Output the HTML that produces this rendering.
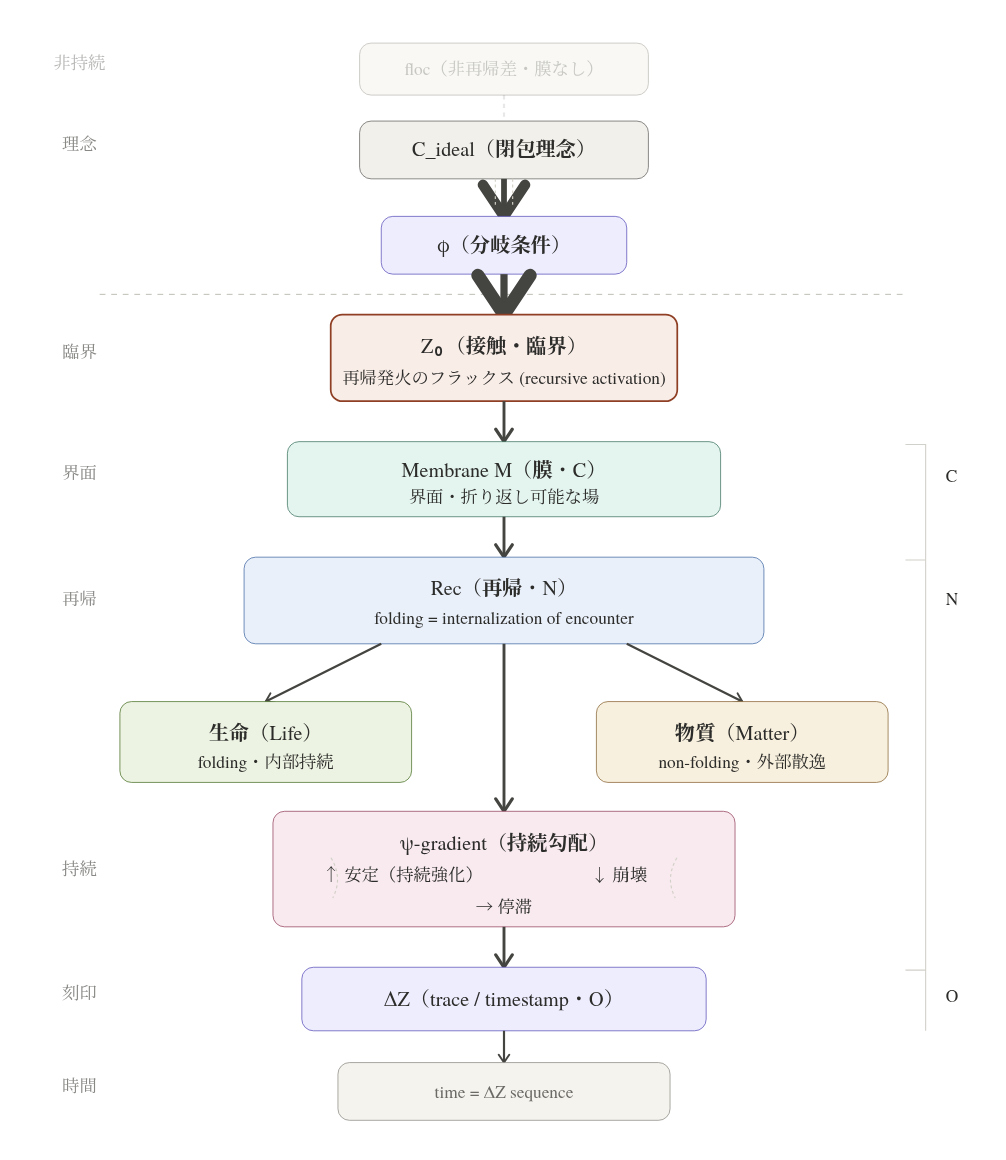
<!DOCTYPE html>
<html lang="ja"><head><meta charset="utf-8"><title>diagram</title>
<style>
html,body{margin:0;padding:0;background:#fff;}
body{width:1006px;height:1160px;overflow:hidden;font-family:"TeX Gyre Termes","Liberation Serif","Noto Serif JP","Noto Serif CJK JP",serif;}
svg{display:block;position:absolute;left:0;top:0;will-change:transform;}
text{font-family:"TeX Gyre Termes","Liberation Serif","Noto Serif JP","Noto Serif CJK JP",serif;}
.b{font-weight:700;}
.z{font-weight:700;font-family:"Noto Sans Mono","DejaVu Sans Mono","Liberation Mono",monospace;}
.j{font-family:"Noto Serif JP","Noto Serif CJK JP","Liberation Serif",serif;}
.g{font-family:"FreeSerif","Liberation Serif",serif;}
.t{font-size:14px;font-weight:400;fill:#2c2c2a;text-anchor:middle;}
.s{font-size:12px;font-weight:400;fill:#2c2c2a;text-anchor:middle;}
.l{font-size:12px;font-weight:400;fill:#888885;text-anchor:middle;}
.r{font-size:12px;font-weight:400;fill:#2c2c2a;text-anchor:start;}
.ar{fill:none;stroke:#444441;stroke-linecap:round;stroke-linejoin:round;}
.ln{fill:none;stroke:#444441;stroke-linecap:butt;}
</style></head><body>
<svg width="1006" height="1160" viewBox="0 0 1006 1160">
<g transform="translate(13.04,14.22) scale(1.444)">

<line x1="60" y1="194" x2="620" y2="194" stroke="#b4b2a9" stroke-width="0.6" stroke-dasharray="4 4"/>
<rect x="240" y="20" width="200" height="36" rx="8" fill="#f9f8f5" stroke="#c6c5bf" stroke-width="0.6" />
<line x1="340" y1="56" x2="340" y2="74" stroke="#444441" stroke-width="1.5" stroke-dasharray="3 3" opacity="0.12"/>
<rect x="240" y="74" width="200" height="40" rx="8" fill="#f2f0eb" stroke="#5f5e5a" stroke-width="0.5" />
<line class="ln" x1="340" y1="114" x2="340" y2="140" stroke-width="4"/>
<path class="ar" stroke-width="7.3" d="M325.456 118.184L340 140L354.544 118.184"/>
<line x1="334" y1="114" x2="334" y2="132.5" stroke="#d3d1c7" stroke-width="0.8" stroke-dasharray="2 2"/>
<line x1="346" y1="114" x2="346" y2="132.5" stroke="#d3d1c7" stroke-width="0.8" stroke-dasharray="2 2"/>
<rect x="255" y="140" width="170" height="40" rx="8" fill="#eeedfe" stroke="#534ab7" stroke-width="0.5" />
<line class="ln" x1="340" y1="180" x2="340" y2="208" stroke-width="5"/>
<path class="ar" stroke-width="9.1" d="M321.92 180.88L340 208L358.08 180.88"/>
<rect x="220" y="208" width="240" height="60" rx="8" fill="#f9ede8" stroke="#8f3f24" stroke-width="1.2" />
<line class="ln" x1="340" y1="268" x2="340" y2="296" stroke-width="2"/>
<path class="ar" stroke-width="2.2" d="M334.28 287.42L340 296L345.72 287.42"/>
<rect x="190" y="296" width="300" height="52" rx="8" fill="#e4f5ef" stroke="#376e59" stroke-width="0.5" />
<line class="ln" x1="340" y1="348" x2="340" y2="376" stroke-width="2"/>
<path class="ar" stroke-width="2.2" d="M334.28 367.42L340 376L345.72 367.42"/>
<rect x="160" y="376" width="360" height="60" rx="8" fill="#e9f0fa" stroke="#3a639f" stroke-width="0.5" />
<line class="ln" x1="340" y1="436" x2="340" y2="552" stroke-width="2"/>
<path class="ar" stroke-width="2.2" d="M334.28 543.42L340 552L345.72 543.42"/>
<line class="ln" x1="255" y1="436" x2="175" y2="476" stroke-width="1.5"/>
<path class="ar" stroke-width="1.36" d="M178.245 470.3213L175 476L181.49 476.8112"/>
<line class="ln" x1="425" y1="436" x2="505" y2="476" stroke-width="1.5"/>
<path class="ar" stroke-width="1.36" d="M498.51 476.8112L505 476L501.755 470.3213"/>
<rect x="74" y="476" width="202" height="56" rx="8" fill="#ecf3e2" stroke="#466c23" stroke-width="0.5" />
<rect x="404" y="476" width="202" height="56" rx="8" fill="#f8f0de" stroke="#83602f" stroke-width="0.5" />
<rect x="180" y="552" width="320" height="80" rx="8" fill="#f8eaef" stroke="#903a58" stroke-width="0.5" />
<line class="ln" x1="340" y1="632" x2="340" y2="660" stroke-width="2"/>
<path class="ar" stroke-width="2.2" d="M334.28 651.42L340 660L345.72 651.42"/>
<rect x="200" y="660" width="280" height="44" rx="8" fill="#eeedfe" stroke="#534ab7" stroke-width="0.5" />
<line class="ln" x1="340" y1="704" x2="340" y2="726" stroke-width="1.5"/>
<path class="ar" stroke-width="1.36" d="M336.372 720.558L340 726L343.628 720.558"/>
<rect x="225" y="726" width="230" height="40" rx="8" fill="#f4f3ee" stroke="#888780" stroke-width="0.5" />
<path d="M220.2 584.2Q228.6 598.2 221.4 612" fill="none" stroke="#d3d1c7" stroke-width="0.8" stroke-dasharray="2 2"/>
<path d="M459.8 584.2Q451.4 598.2 458.6 612" fill="none" stroke="#d3d1c7" stroke-width="0.8" stroke-dasharray="2 2"/>
<path d="M618 298H632V704M618 378H632M618 662H632" fill="none" stroke="#d1d0ca" stroke-width="0.75"/>
<text class="r" x="646" y="323.9474">C</text>
<text class="r" x="646" y="409.1274">N</text>
<text class="r" x="646" y="684.0582">O</text>
<text class="l" x="45.95" y="37.9363" opacity="0.6">非持続</text>
<text class="l" x="45.95" y="94.0305" opacity="1">理念</text>
<text class="l" x="45.95" y="238.0748" opacity="1">臨界</text>
<text class="l" x="45.95" y="321.8698" opacity="1">界面</text>
<text class="l" x="45.95" y="409.1274" opacity="1">再帰</text>
<text class="l" x="45.95" y="596.108" opacity="1">持続</text>
<text class="l" x="45.95" y="681.9806" opacity="1">刻印</text>
<text class="l" x="45.95" y="746.385" opacity="1">時間</text>
<text class="s" x="340" y="42.0914" style="fill:#c8c8c3">floc（非再帰差・膜なし）</text>
<text class="t" x="340" y="98.1856" >C_ideal（<tspan class="b">閉包理念</tspan>）</text>
<text class="t" x="340" y="164.6676" ><tspan class="g">ϕ</tspan>（<tspan class="b">分岐条件</tspan>）</text>
<text class="t" x="340" y="234.6122" >Z<tspan class="z" dx="-0.7">₀</tspan><tspan dx="0.7">（</tspan><tspan class="b">接触・臨界</tspan>）</text>
<text class="s" x="340" y="256.0803" >再帰発火のフラックス (recursive activation)</text>
<text class="t" x="340" y="320.4848" >Membrane M（<tspan class="b">膜</tspan>・C）</text>
<text class="s" x="340" y="338.4903" >界面・折り返し可能な場</text>
<text class="t" x="340" y="402.2022" >Rec（<tspan class="b">再帰</tspan>・N）</text>
<text class="s" x="340" y="422.2853" >folding = internalization of encounter</text>
<text class="t" x="174.9723" y="502.6177" ><tspan class="b">生命</tspan>（Life）</text>
<text class="s" x="174.9723" y="522.0083" >folding・内部持続</text>
<text class="t" x="504.9584" y="502.6177" ><tspan class="b">物質</tspan>（Matter）</text>
<text class="s" x="504.9584" y="522.0083" >non-folding・外部散逸</text>
<text class="t" x="340" y="578.795" ><tspan class="g">ψ</tspan>-gradient（<tspan class="b">持続勾配</tspan>）</text>
<text class="s" x="269.8476" y="600.2632" ><tspan class="j">↑</tspan> 安定（持続強化）</text>
<text class="s" x="419.7091" y="600.2632" ><tspan class="j">↓</tspan> 崩壊</text>
<text class="s" x="340" y="622.4238" ><tspan class="j">→</tspan> 停滞</text>
<text class="t" x="340" y="686.8283" ><tspan class="g">Δ</tspan>Z（trace / timestamp・O）</text>
<text class="s" x="340" y="750.5402" style="fill:#6b6a66">time = <tspan class="g">Δ</tspan>Z sequence</text>
</g></svg></body></html>
